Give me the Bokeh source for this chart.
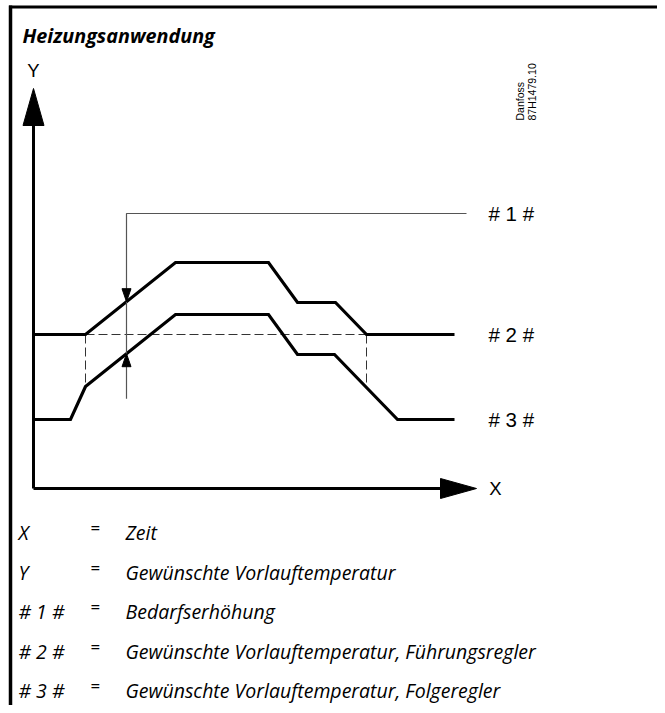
import numpy as np
from bokeh.plotting import figure
from bokeh.models import Range1d
from bokeh.core.properties import value
from bokeh.embed import file_html
from bokeh.resources import INLINE

# ---------------- data (diagram units: time / desired flow temperature) -------------
time_lead = [0, 52, 142, 235, 264, 302, 333, 421]
temp_lead = [154, 154, 226, 226, 186, 186, 154, 154]          # # 2 #  Führungsregler
time_follow = [0, 37, 52, 142, 235, 264, 301, 364, 421]
temp_follow = [69, 69, 102, 174, 174, 134, 134, 69, 69]        # # 3 #  Folgeregler
boost_time = 93                                               # # 1 #  Bedarfserhöhung marker
boost_label_level = 275
series_labels = ["# 1 #", "# 2 #", "# 3 #"]
axis_labels = ["X", "Y"]
title_text = "Heizungsanwendung"
stamp_lines = ["Danfoss", "87H1479.10"]
legend_keys = ["X", "Y", "# 1 #", "# 2 #", "# 3 #"]
legend_desc = ["Zeit",
               "Gewünschte Vorlauftemperatur",
               "Bedarfserhöhung",
               "Gewünschte Vorlauftemperatur, Führungsregler",
               "Gewünschte Vorlauftemperatur, Folgeregler"]

# ---------------- layout -------------------------------------------------------------
W, H = 657, 705
OX, OY = 33, 488          # picture position of the diagram origin
x_range = Range1d(-OX, W - OX)
y_range = Range1d(OY - H, OY)

p = figure(width=W, height=H, x_range=x_range, y_range=y_range,
           output_backend="svg", toolbar_location=None, min_border=0)
p.axis.visible = False
p.grid.visible = False
p.outline_line_color = None
p.background_fill_color = "white"

def px(xp):  # picture x -> data
    return xp - OX
def py(yp):  # picture y -> data
    return OY - yp

# frame border (top and left)
p.line([px(10), px(10)], [py(5), py(713)], line_color="black", line_width=3.5)
p.line([px(8.5), px(665)], [py(6.5), py(6.5)], line_color="black", line_width=3)

# title
p.text(x=[px(22)], y=[py(35)], text=[title_text], text_font=value("Open Sans"),
       text_font_style="bold italic", text_font_size="19.8px",
       text_baseline="alphabetic", text_align="left", text_color="black")

# axes
y_top = 400
x_end = 443
p.line([0, 0], [0, y_top - 36], line_color="black", line_width=3)
p.line([0, x_end - 35], [0, 0], line_color="black", line_width=3)
p.patch([0, -10.5, 10.5], [y_top, y_top - 37, y_top - 37], fill_color="black", line_color="black")
p.patch([x_end, x_end - 36, x_end - 36], [0, 10, -10], fill_color="black", line_color="black")
p.text(x=[0, x_end + 19], y=[y_top + 18, 0], text=[axis_labels[1], axis_labels[0]],
       text_font=value("Liberation Sans"), text_font_size="18.5px",
       text_align="center", text_baseline="middle", text_color="black")

# dashed guide lines
t1, t2 = time_lead[1], time_lead[-2]
base = temp_lead[0]
p.line([t1, t2], [base, base], line_color="#333333", line_width=1, line_dash="9 4")
p.line([t1, t1], [base, np.interp(t1, time_follow, temp_follow)], line_color="#333333",
       line_width=1, line_dash="9 4")
p.line([t2, t2], [base, np.interp(t2, time_follow, temp_follow)], line_color="#333333",
       line_width=1, line_dash="9 4")

# series
p.line(time_lead, temp_lead, line_color="black", line_width=3.2, line_join="miter")
p.line(time_follow, temp_follow, line_color="black", line_width=3.2, line_join="miter")

# boost annotation
hi = float(np.interp(boost_time, time_lead, temp_lead))
lo = float(np.interp(boost_time, time_follow, temp_follow))
p.line([boost_time, boost_time, px(466)], [lo - 45, boost_label_level, boost_label_level],
       line_color="#555555", line_width=1.2)
p.patch([boost_time, boost_time - 4.5, boost_time + 4.5], [hi, hi + 13, hi + 13],
        fill_color="black", line_color="black")
p.patch([boost_time, boost_time - 4.5, boost_time + 4.5], [lo, lo - 13, lo - 13],
        fill_color="black", line_color="black")

# series labels
p.text(x=[px(488)] * 3, y=[boost_label_level, temp_lead[-1], temp_follow[-1]],
       text=series_labels, text_font=value("Liberation Sans"), text_font_size="20.5px",
       text_align="left", text_baseline="middle", text_color="black")

# Danfoss stamp (rotated)
p.text(x=[px(519), px(531)], y=[py(120), py(120)], text=stamp_lines, angle=np.pi / 2,
       text_font=value("Liberation Sans"), text_font_size="10.5px",
       text_align="left", text_baseline="middle", text_color="black")

# legend
rows_y = [py(532 + 39.5 * i) for i in range(len(legend_keys))]
p.text(x=[px(18)] * len(legend_keys), y=rows_y, text=legend_keys,
       text_font=value("Open Sans"), text_font_style="italic", text_font_size="19.5px",
       text_align="left", text_baseline="middle", text_color="black")
p.text(x=[px(90)] * len(legend_keys), y=[v + 5 for v in rows_y], text=["="] * len(legend_keys),
       text_font=value("Open Sans"), text_font_size="17px",
       text_align="left", text_baseline="middle", text_color="black")
p.text(x=[px(125)] * len(legend_keys), y=rows_y, text=legend_desc,
       text_font=value("Open Sans"), text_font_style="italic", text_font_size="19.5px",
       text_align="left", text_baseline="middle", text_color="black")

open("out.html", "w").write(file_html(p, INLINE))
